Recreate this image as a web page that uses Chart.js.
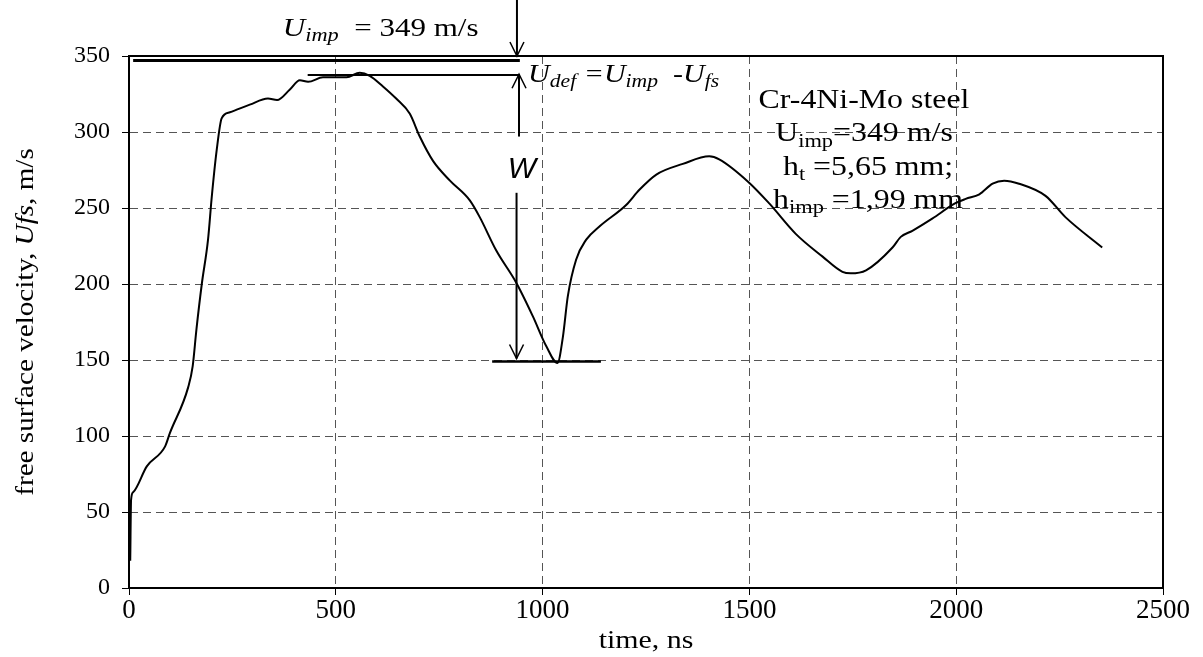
<!DOCTYPE html>
<html lang="en">
<head>
  <meta charset="UTF-8">
  <title>Free surface velocity</title>
  <script src="https://cdn.jsdelivr.net/npm/chart.js"></script>
  <style>
    body { margin: 0; background: #fff; }
    #wrap { width: 1203px; height: 657px; }
  </style>
</head>
<body>
  <div id="wrap"><canvas id="velChart" width="1203" height="657"></canvas></div>
  <script>
    // time, ns
    const timeNs = [3, 5, 10, 43, 87, 99, 143, 154, 163, 176,
      191, 200, 212, 224, 244, 292, 336, 358, 389, 413,
      433, 469, 526, 558, 582, 614, 646, 679, 703, 735,
      776, 824, 848, 888, 936, 976, 1009, 1036, 1049, 1061,
      1081, 1105, 1138, 1202, 1234, 1275, 1339, 1403, 1427, 1498,
      1548, 1612, 1677, 1725, 1745, 1782, 1846, 1866, 1894, 1942,
      1997, 2023, 2056, 2088, 2116, 2152, 2216, 2264, 2353];
    // free surface velocity, m/s
    const velocity = [18, 58, 63, 80, 93, 102, 132, 146, 170, 200,
      229, 257, 288, 309, 313, 318, 322, 321, 328, 334,
      333, 336, 336, 339, 337, 330, 322, 312, 297, 281,
      268, 255, 244, 222, 201, 179, 159, 148, 165, 192,
      216, 229, 238, 252, 262, 272, 279, 284, 282, 267,
      253, 233, 218, 208, 207, 209, 224, 231, 235, 243,
      253, 256, 259, 266, 268, 266, 258, 244, 224];

    const xTicks = [0, 500, 1000, 1500, 2000, 2500];
    const yTicks = [0, 50, 100, 150, 200, 250, 300, 350];

    // annotation lines / arrows, in data units [t1, v1, t2, v2]
    const impLine = [10, 347, 945, 347];
    const defLine = [432, 337.5, 945, 337.5];
    const minLine = [878, 149, 1141, 149];
    const arrowTop = [938, 387, 938, 350];
    const arrowUp = [943, 297, 943, 338];
    const arrowDown = [937, 260, 937, 151];

    const serif = '"Liberation Serif", "Times New Roman", serif';

    // draws a run of text pieces (italic / subscript), stretched sideways by sx
    function rich(ctx, runs, x, y, size, align, sx) {
      sx = sx || 1;
      const fontFor = r => (r.it ? 'italic ' : '') + (r.sub ? Math.round(size * 0.72) : size) + 'px ' + serif;
      let w = 0;
      runs.forEach(r => { ctx.font = fontFor(r); w += ctx.measureText(r.t).width; });
      const x0 = align === 'center' ? x - w * sx / 2 : x;
      ctx.save();
      ctx.translate(x0, y);
      ctx.scale(sx, 1);
      ctx.textAlign = 'left';
      ctx.textBaseline = 'alphabetic';
      let cx = 0;
      runs.forEach(r => {
        ctx.font = fontFor(r);
        ctx.fillText(r.t, cx, r.sub ? size * 0.2 : 0);
        cx += ctx.measureText(r.t).width;
      });
      ctx.restore();
    }

    const overlay = {
      id: 'overlay',
      afterDraw(chart) {
        const { ctx, chartArea: a, scales: { x, y } } = chart;
        const px = t => x.getPixelForValue(t);
        const py = v => y.getPixelForValue(v);
        ctx.save();
        ctx.strokeStyle = '#000';
        ctx.fillStyle = '#000';

        // plot frame
        ctx.lineWidth = 2;
        ctx.strokeRect(a.left, a.top, a.right - a.left, a.bottom - a.top);

        function seg(l, w) {
          ctx.lineWidth = w;
          ctx.beginPath();
          ctx.moveTo(px(l[0]), py(l[1]));
          ctx.lineTo(px(l[2]), py(l[3]));
          ctx.stroke();
        }
        function arrow(l) {
          seg(l, 2);
          const x2 = px(l[2]), y2 = py(l[3]);
          const dir = Math.sign(py(l[3]) - py(l[1]));
          ctx.lineWidth = 1.5;
          ctx.beginPath();
          ctx.moveTo(x2 - 7, y2 - dir * 14);
          ctx.lineTo(x2, y2);
          ctx.lineTo(x2 + 7, y2 - dir * 14);
          ctx.stroke();
        }

        seg(impLine, 3);
        seg(defLine, 2);
        seg(minLine, 2.5);
        arrow(arrowTop);
        arrow(arrowUp);
        arrow(arrowDown);

        // W
        ctx.font = 'italic 30px "Liberation Sans", sans-serif';
        ctx.textAlign = 'center';
        ctx.textBaseline = 'alphabetic';
        ctx.fillText('W', px(950), py(269.5));

        // top label
        rich(ctx, [{ t: 'U', it: true }, { t: 'imp', it: true, sub: true }, { t: '  = 349 m/s' }],
          px(372), py(363), 25, 'left', 1.24);

        // Udef label
        rich(ctx, [{ t: 'U', it: true }, { t: 'def', it: true, sub: true }, { t: ' =', it: true },
          { t: 'U', it: true }, { t: 'imp', it: true, sub: true }, { t: '  -', it: true },
          { t: 'U', it: true }, { t: 'fs', it: true, sub: true }], px(965), py(333), 25, 'left', 1.2);

        // sample block
        rich(ctx, [{ t: 'Cr-4Ni-Mo steel' }], px(1777), py(315.8), 27, 'center', 1.18);
        rich(ctx, [{ t: 'U' }, { t: 'imp', sub: true }, { t: '=349 m/s' }], px(1777), py(294), 27, 'center', 1.18);
        rich(ctx, [{ t: 'h' }, { t: 't', sub: true }, { t: ' =5,65 mm;' }], px(1787), py(271.7), 27, 'center', 1.18);
        rich(ctx, [{ t: 'h' }, { t: 'imp', sub: true }, { t: ' =1,99 mm' }], px(1787), py(250), 27, 'center', 1.18);

        // x axis title
        rich(ctx, [{ t: 'time, ns' }], (a.left + a.right) / 2, 648, 26, 'center', 1.15);

        // y axis title
        ctx.translate(24, (a.top + a.bottom) / 2);
        ctx.rotate(-Math.PI / 2);
        rich(ctx, [{ t: 'free surface velocity, ' }, { t: 'Ufs', it: true }, { t: ', m/s' }], 0, 9, 26, 'center', 1.12);
        ctx.restore();
      }
    };

    const points = timeNs.map((t, i) => ({ x: t, y: velocity[i] }));

    new Chart(document.getElementById('velChart'), {
      type: 'line',
      data: {
        datasets: [{
          data: points,
          borderColor: '#000',
          borderWidth: 2,
          pointRadius: 0,
          cubicInterpolationMode: 'monotone',
          fill: false
        }]
      },
      options: {
        responsive: false,
        animation: false,
        layout: { padding: { left: 0, top: 56, right: 40, bottom: 0 } },
        plugins: { legend: { display: false }, tooltip: { enabled: false } },
        scales: {
          x: {
            type: 'linear',
            min: 0,
            max: 2500,
            afterBuildTicks: s => { s.ticks = xTicks.map(v => ({ value: v })); },
            afterFit: s => { s.height = 69; },
            ticks: { color: '#000', font: { family: serif, size: 27 }, padding: 0, maxRotation: 0, callback: v => String(v) },
            grid: { color: '#555', lineWidth: 1, tickColor: '#000', tickLength: 7, tickBorderDash: [] },
            border: { display: true, color: '#000', width: 2, dash: [8, 5] }
          },
          y: {
            min: 0,
            max: 350,
            afterBuildTicks: s => { s.ticks = yTicks.map(v => ({ value: v })); },
            afterFit: s => { s.width = 129; },
            ticks: { color: '#000', font: { family: serif, size: 24 }, padding: 12, callback: v => String(v) },
            grid: { color: '#555', lineWidth: 1, tickColor: '#000', tickLength: 7, tickBorderDash: [] },
            border: { display: true, color: '#000', width: 2, dash: [8, 5] }
          }
        }
      },
      plugins: [overlay]
    });
  </script>
</body>
</html>
